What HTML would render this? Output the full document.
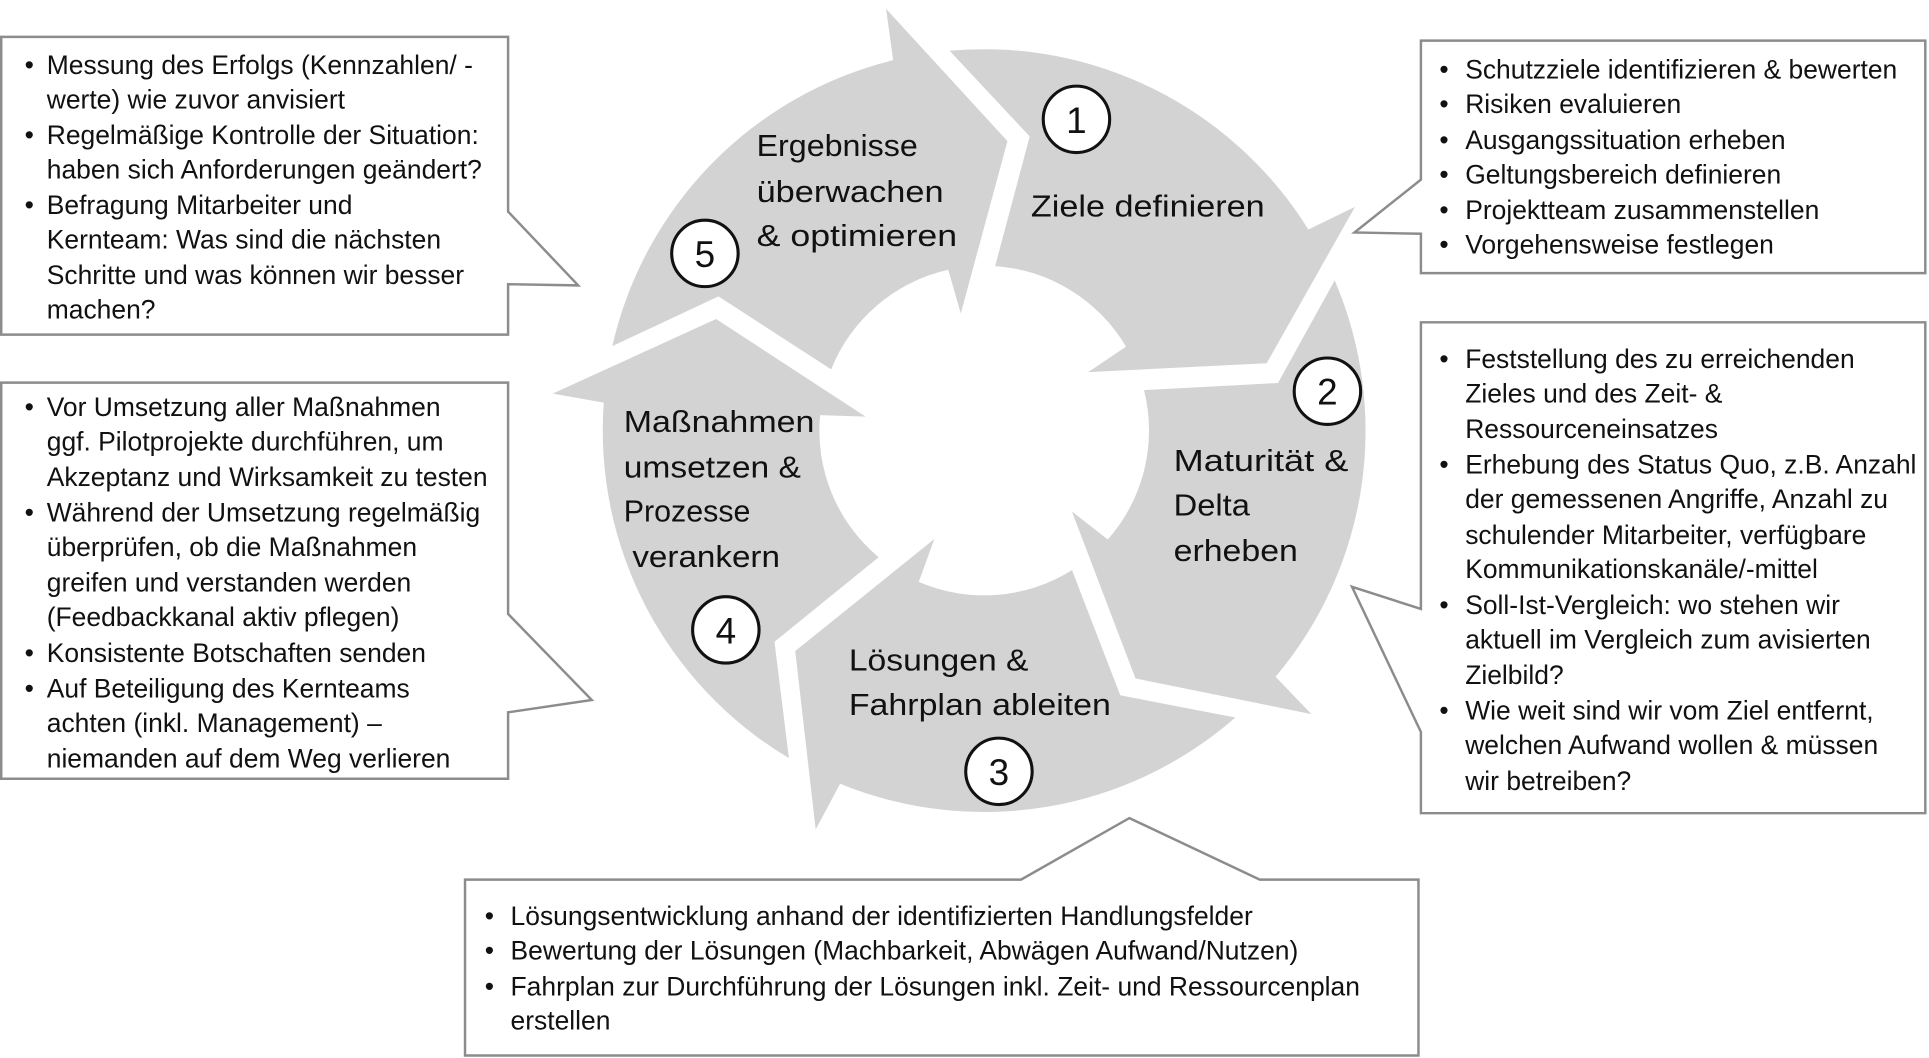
<!DOCTYPE html>
<html><head><meta charset="utf-8">
<style>
html,body{margin:0;padding:0;background:#fff;}
svg{display:block;}
text{font-family:"Liberation Sans",Arial,sans-serif;fill:#111;}
.b{font-size:21.5px;}
.l{font-size:24.5px;}
.n{font-size:30px;text-anchor:middle;}
</style></head>
<body>
<svg width="1929" height="1058" viewBox="0 0 1568 860" xmlns="http://www.w3.org/2000/svg">
<defs>
<path id="arr" d="M771.9,41.3 A310,310 0 0 1 1063.5,186.6 L1101.4,168.2 L1029.6,295.3 L884.6,302.5 L915.3,281.8 A134,134 0 0 0 808.9,216.3 L837,110.9 Z" fill="#d3d3d3"/>
</defs>
<use href="#arr"/>
<use href="#arr" transform="rotate(72 800 350)"/>
<use href="#arr" transform="rotate(144 800 350)"/>
<use href="#arr" transform="rotate(216 800 350)"/>
<use href="#arr" transform="rotate(288 800 350)"/>

<g fill="#fff" stroke="#111" stroke-width="2.5">
<circle cx="875" cy="97" r="27"/>
<circle cx="1079" cy="318" r="27"/>
<circle cx="812" cy="627" r="27"/>
<circle cx="590" cy="512" r="27"/>
<circle cx="573" cy="206" r="27"/>
</g>
<text class="n" x="875" y="108">1</text>
<text class="n" x="1079" y="329">2</text>
<text class="n" x="812" y="638">3</text>
<text class="n" x="590" y="523">4</text>
<text class="n" x="573" y="217">5</text>

<text class="l" x="615" y="127" textLength="131" lengthAdjust="spacingAndGlyphs">Ergebnisse</text>
<text class="l" x="615" y="164" textLength="152" lengthAdjust="spacingAndGlyphs">überwachen</text>
<text class="l" x="615" y="200" textLength="163" lengthAdjust="spacingAndGlyphs">&amp; optimieren</text>
<text class="l" x="838" y="176" textLength="190" lengthAdjust="spacingAndGlyphs">Ziele definieren</text>
<text class="l" x="954" y="383" textLength="142" lengthAdjust="spacingAndGlyphs">Maturität &amp;</text>
<text class="l" x="954" y="419" textLength="62" lengthAdjust="spacingAndGlyphs">Delta</text>
<text class="l" x="954" y="456" textLength="101" lengthAdjust="spacingAndGlyphs">erheben</text>
<text class="l" x="690" y="545" textLength="146" lengthAdjust="spacingAndGlyphs">Lösungen &amp;</text>
<text class="l" x="690" y="581" textLength="213" lengthAdjust="spacingAndGlyphs">Fahrplan ableiten</text>
<text class="l" x="507" y="351" textLength="155" lengthAdjust="spacingAndGlyphs">Maßnahmen</text>
<text class="l" x="507" y="388" textLength="144" lengthAdjust="spacingAndGlyphs">umsetzen &amp;</text>
<text class="l" x="507" y="424" textLength="103" lengthAdjust="spacingAndGlyphs">Prozesse</text>
<text class="l" x="514" y="461" textLength="120" lengthAdjust="spacingAndGlyphs">verankern</text>

<g fill="#fff" stroke="#8c8c8c" stroke-width="2">
<path d="M1,30 H413 V172 L470,232 L413,231 V272 H1 Z"/>
<path d="M1,311 H413 V499 L481,569 L413,579 V633 H1 Z"/>
<path d="M1155,33 H1565 V222 H1155 V190 L1101,189 L1155,146 Z"/>
<path d="M1155,262 H1565 V661 H1155 V595 L1099,477 L1155,495 Z"/>
<path d="M378,715 H830 L918,665 L1024,715 H1153 V858 H378 Z"/>
</g>

<g class="b">
<text x="20" y="60">•</text><text x="38" y="60">Messung des Erfolgs (Kennzahlen/ -</text>
<text x="38" y="88">werte) wie zuvor anvisiert</text>
<text x="20" y="117">•</text><text x="38" y="117">Regelmäßige Kontrolle der Situation:</text>
<text x="38" y="145">haben sich Anforderungen geändert?</text>
<text x="20" y="174">•</text><text x="38" y="174">Befragung Mitarbeiter und</text>
<text x="38" y="202">Kernteam: Was sind die nächsten</text>
<text x="38" y="231">Schritte und was können wir besser</text>
<text x="38" y="259">machen?</text>

<text x="20" y="338">•</text><text x="38" y="338">Vor Umsetzung aller Maßnahmen</text>
<text x="38" y="366">ggf. Pilotprojekte durchführen, um</text>
<text x="38" y="395">Akzeptanz und Wirksamkeit zu testen</text>
<text x="20" y="424">•</text><text x="38" y="424">Während der Umsetzung regelmäßig</text>
<text x="38" y="452">überprüfen, ob die Maßnahmen</text>
<text x="38" y="481">greifen und verstanden werden</text>
<text x="38" y="509">(Feedbackkanal aktiv pflegen)</text>
<text x="20" y="538">•</text><text x="38" y="538">Konsistente Botschaften senden</text>
<text x="20" y="567">•</text><text x="38" y="567">Auf Beteiligung des Kernteams</text>
<text x="38" y="595">achten (inkl. Management) –</text>
<text x="38" y="624">niemanden auf dem Weg verlieren</text>

<text x="1170" y="64">•</text><text x="1191" y="64">Schutzziele identifizieren &amp; bewerten</text>
<text x="1170" y="92">•</text><text x="1191" y="92">Risiken evaluieren</text>
<text x="1170" y="121">•</text><text x="1191" y="121">Ausgangssituation erheben</text>
<text x="1170" y="149">•</text><text x="1191" y="149">Geltungsbereich definieren</text>
<text x="1170" y="178">•</text><text x="1191" y="178">Projektteam zusammenstellen</text>
<text x="1170" y="206">•</text><text x="1191" y="206">Vorgehensweise festlegen</text>

<text x="1170" y="299">•</text><text x="1191" y="299">Feststellung des zu erreichenden</text>
<text x="1191" y="327">Zieles und des Zeit- &amp;</text>
<text x="1191" y="356">Ressourceneinsatzes</text>
<text x="1170" y="385">•</text><text x="1191" y="385">Erhebung des Status Quo, z.B. Anzahl</text>
<text x="1191" y="413">der gemessenen Angriffe, Anzahl zu</text>
<text x="1191" y="442">schulender Mitarbeiter, verfügbare</text>
<text x="1191" y="470">Kommunikationskanäle/-mittel</text>
<text x="1170" y="499">•</text><text x="1191" y="499">Soll-Ist-Vergleich: wo stehen wir</text>
<text x="1191" y="527">aktuell im Vergleich zum avisierten</text>
<text x="1191" y="556">Zielbild?</text>
<text x="1170" y="585">•</text><text x="1191" y="585">Wie weit sind wir vom Ziel entfernt,</text>
<text x="1191" y="613">welchen Aufwand wollen &amp; müssen</text>
<text x="1191" y="642">wir betreiben?</text>

<text x="394" y="752">•</text><text x="415" y="752">Lösungsentwicklung anhand der identifizierten Handlungsfelder</text>
<text x="394" y="780">•</text><text x="415" y="780">Bewertung der Lösungen (Machbarkeit, Abwägen Aufwand/Nutzen)</text>
<text x="394" y="809">•</text><text x="415" y="809">Fahrplan zur Durchführung der Lösungen inkl. Zeit- und Ressourcenplan</text>
<text x="415" y="837">erstellen</text>
</g>
</svg>
</body></html>
